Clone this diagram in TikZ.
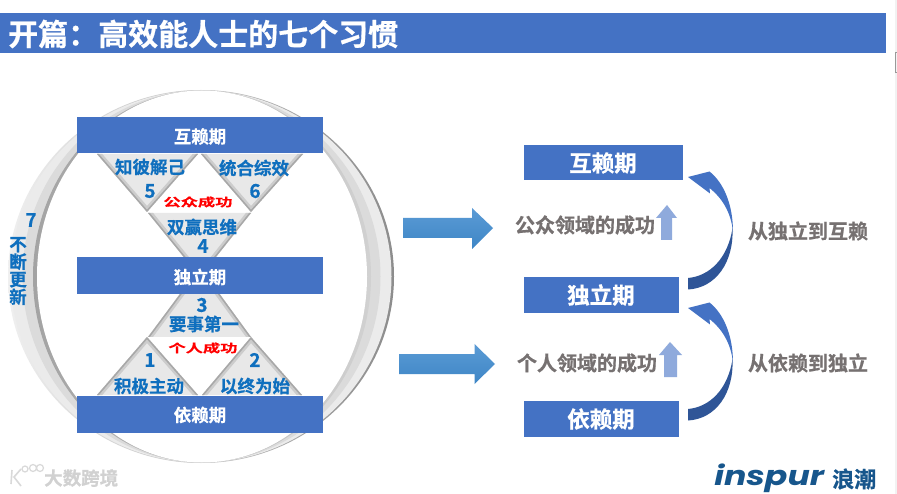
\documentclass[tikz,border=0pt]{standalone}
\usepackage{fontspec}
\setmainfont{Noto Sans CJK SC}[BoldFont={* Bold},BoldFeatures={FakeBold=0.6}]
\newfontfamily\logofont{Poppins}[BoldFeatures={FakeBold=1.2}]
\usetikzlibrary{calc}
\definecolor{barblue}{HTML}{4472C4}
\definecolor{darkblue}{HTML}{2F5597}
\definecolor{labelblue}{HTML}{0F6FBE}
\definecolor{graytxt}{HTML}{767171}
\definecolor{liftblue}{HTML}{8FAADC}
\definecolor{logoblue}{HTML}{17568C}
\definecolor{arrowtop}{HTML}{5B9BD5}
\definecolor{arrowbot}{HTML}{3E86C6}
\newcommand{\fs}[1]{\fontsize{#1}{#1}\selectfont\bfseries}
\tikzset{
 x=1pt,y=-1pt,
 bar/.style={fill=barblue,draw=none},
 bartxt/.style={text=white,font=\fs{17.5},inner sep=0pt},
 boxtxt/.style={text=white,font=\fs{22.5},inner sep=0pt},
 lab/.style={text=labelblue,font=\fs{17.5},inner sep=0pt},
 num/.style={text=labelblue,font=\fs{19},inner sep=0pt},
 redlab/.style={text=red,font=\fs{11.5},inner sep=0pt,xscale=1.5},
 gray lab/.style={text=graytxt,font=\fs{20},inner sep=0pt},
 tri/.style={fill=black!9},
 tribevel/.style={draw=black!34,line width=3pt},
 tribevelb/.style={draw=black!20,line width=8pt},
 blockarrow/.style={top color=arrowtop,bottom color=arrowbot,draw=none},
 lift/.style={fill=liftblue,draw=none},
}
\newcommand{\tri}[3]{%
 \begin{scope}
  \clip #1 -- #2 -- #3 -- cycle;
  \fill[tri] #1 -- #2 -- #3 -- cycle;
  \draw[tribevelb] #1 -- #2 #2 -- #3;
  \draw[tribevel] #1 -- #2 #2 -- #3;
 \end{scope}}
\newcommand{\curvedarrow}[1]{%
 \begin{scope}[yshift=#1]
  \fill[darkblue] (688,278) .. controls (710,276) and (728,258) .. (732.5,228)
     .. controls (734,262) and (716,288) .. (688,289.5) -- cycle;
  \fill[barblue] (688,177) -- (709.5,171.5) .. controls (724,183) and (733,205) .. (733,232)
     .. controls (731,212) and (722,198) .. (709.5,188) -- (710,193.5) -- cycle;
 \end{scope}}
\begin{document}
\begin{tikzpicture}
\useasboundingbox (0,0) rectangle (897,494);
\fill[white] (0,0) rectangle (897,494);
\fill[black!5] (895,0) rectangle (897,494);
\draw[black!40,line width=0.8pt] (897,52.5) -- (895.5,52.5) -- (895.5,72) -- (897,72);
% header
\node[anchor=north west,fill=barblue,minimum width=886pt,minimum height=40pt,inner sep=0pt] (head) at (0,13) {};
\node[text=white,font=\fs{30},inner sep=0pt,anchor=west] (title) at (8,34) {开篇：高效能人士的七个习惯};
% ring
\shade[left color=black!6,right color=black!45] (201,276.5) ellipse [x radius=193,y radius=186.5];
\fill[black!8] (201,276.5) ellipse [x radius=190.5,y radius=186];
\fill[black!14] (201.5,276.5) ellipse [x radius=179,y radius=186];
\shade[left color=black!36,right color=black!18] (202,276.5) ellipse [x radius=169,y radius=186];
\fill[white] (202,276.5) ellipse [x radius=165,y radius=186];
% triangles
\tri{(97,154)}{(147,212)}{(198,154)}
\tri{(201,154)}{(251,212)}{(303,154)}
\tri{(148,213)}{(200,277)}{(251,213)}
\tri{(148,337)}{(200,267)}{(251,337)}
\tri{(97,395)}{(147,337)}{(198,395)}
\tri{(202,395)}{(251,337)}{(302,395)}
% bars
\fill[bar] (77,117) rectangle (323,153);
\fill[bar] (77,257) rectangle (323,294);
\fill[bar] (77,396) rectangle (323,433);
\node[bartxt] (b1) at (200,136.5) {互赖期};
\node[bartxt] (b2) at (200,277) {独立期};
\node[bartxt] (b3) at (200,415) {依赖期};
% triangle labels
\node[lab] (t5) at (150,167) {知彼解己};
\node[num] (n5) at (150,191) {5};
\node[lab] (t6) at (254,168) {统合综效};
\node[num] (n6) at (255,191) {6};
\node[redlab] (pub) at (198,202) {公众成功};
\node[lab] (t4) at (202,227) {双赢思维};
\node[num] (n4) at (203,246) {4};
\node[num] (n3) at (202,305) {3};
\node[lab] (t3) at (204,324) {要事第一};
\node[redlab] (per) at (203,348) {个人成功};
\node[num] (n1) at (150,360) {1};
\node[num] (n2) at (255,360) {2};
\node[lab] (t1) at (149,386) {积极主动};
\node[lab] (t2) at (255,386) {以终为始};
\node[num] (n7) at (31,220) {7};
\node[lab,align=center,font=\fontsize{17.5}{17.6}\selectfont\bfseries] (t7) at (18,271) {不\\断\\更\\新};
% block arrows
\path[blockarrow] (403,218) -- (472,218) -- (472,208) -- (493,228) -- (472,249) -- (472,238) -- (403,238) -- cycle;
\path[blockarrow] (399,354) -- (474.5,354) -- (474.5,344) -- (495,364) -- (474.5,384) -- (474.5,374) -- (399,374) -- cycle;
% right boxes
\fill[bar] (524,145) rectangle (683,180);
\fill[bar] (524,277) rectangle (679,313);
\fill[bar] (524,401) rectangle (679,437);
\node[boxtxt] (r1) at (603,163) {互赖期};
\node[boxtxt] (r2) at (601,295) {独立期};
\node[boxtxt] (r3) at (601,419) {依赖期};
% lift arrows
\fill[lift] (661,240) -- (661,218) -- (656,218) -- (667,205) -- (677,218) -- (672,218) -- (672,240) -- cycle;
\fill[lift] (664,377) -- (664,355) -- (659,355) -- (670,342) -- (682,355) -- (677,355) -- (677,377) -- cycle;
\node[gray lab] (g1) at (585,225) {公众领域的成功};
\node[gray lab] (g2) at (587,363) {个人领域的成功};
\node[gray lab] (g3) at (808,231) {从独立到互赖};
\node[gray lab] (g4) at (808,363) {从依赖到独立};
% curved arrows
\curvedarrow{0pt}
\curvedarrow{-131pt}
% watermark
\draw[black!15,line width=1.6pt] (12,470) -- (11,484) (21,469) -- (14,477) -- (21,486);
\draw[black!15,line width=1.2pt] (25,469) circle (3pt) (33,468) circle (3.5pt) (40,468) circle (3.5pt);
\node[text=black!18,font=\fs{18.5},inner sep=0pt,anchor=west] (wm) at (44,478) {大数跨境};
% logo
\node[text=logoblue,font=\logofont\fontsize{27}{27}\selectfont\bfseries\itshape,inner sep=0pt,anchor=base west,xscale=1.23] (logo) at (714,485) {inspur};
\node[text=logoblue,font=\fs{22},inner sep=0pt,anchor=west] (logocn) at (832,479) {浪潮};
\end{tikzpicture}
\end{document}
